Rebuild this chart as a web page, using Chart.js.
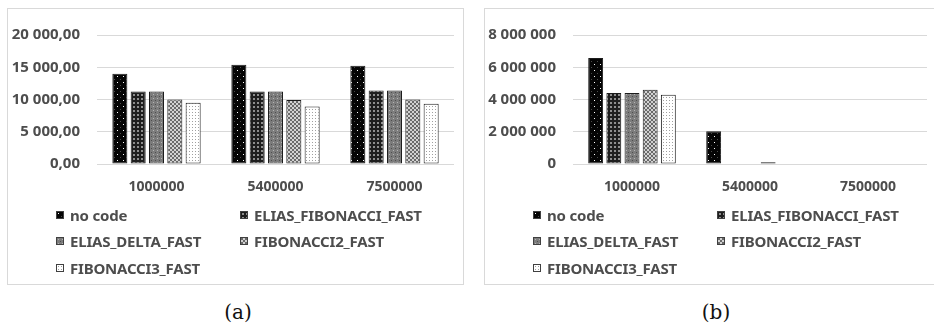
<!DOCTYPE html>
<html>
<head>
<meta charset="utf-8">
<script src="https://cdn.jsdelivr.net/npm/chart.js@4/dist/chart.umd.min.js"></script>
<style>
  html, body { margin: 0; padding: 0; background: #fff; }
  body { width: 934px; height: 325px; position: relative; overflow: hidden; }
  .panel { position: absolute; top: 8px; height: 275px; border: 1px solid #d9d9d9; background: #fff; }
  .panel canvas { position: absolute; left: 0; top: 0; }
  .legend { position: absolute; left: 0; top: 0; width: 100%; height: 100%; pointer-events: none; }
  .item { position: absolute; height: 20px; line-height: 20px; font-family: "Noto Sans", sans-serif; font-weight: 700;
          font-size: 15px; color: #4d4d4d; white-space: nowrap; }
  .sw { position: absolute; left: 0; top: 6px; width: 6px; height: 6px; border: 1px solid #404040; background-repeat: repeat; }
  .item span.t { position: absolute; white-space: nowrap; letter-spacing: -0.2px; }
  .cap { position: absolute; top: 300px; font-family: "DejaVu Serif", serif; font-size: 20px; color: #111; transform: translateX(-50%); }
</style>
</head>
<body>
<div class="panel" id="panelA" style="left:7px; width:455px;">
  <canvas id="chartA" width="455" height="200"></canvas>
  <div class="legend" id="legendA"></div>
</div>
<div class="panel" id="panelB" style="left:484px; width:451px;">
  <canvas id="chartB" width="451" height="200"></canvas>
  <div class="legend" id="legendB"></div>
</div>
<div class="cap" style="left:238px;">(a)</div>
<div class="cap" style="left:716px;">(b)</div>

<script>
// Categories (input sizes) and series names
const CATEGORIES = ['1000000', '5400000', '7500000'];
const SERIES = ['no code', 'ELIAS_FIBONACCI_FAST', 'ELIAS_DELTA_FAST', 'FIBONACCI2_FAST', 'FIBONACCI3_FAST'];

// Panel (a) values
const aNoCode     = [14000, 15400, 15220];
const aEliasFib   = [11240, 11240, 11380];
const aEliasDelta = [11240, 11240, 11380];
const aFib2       = [10000, 9910, 10000];
const aFib3       = [9500, 8910, 9340];

// Panel (b) values
const bNoCode     = [6580000, 2030000, 0];
const bEliasFib   = [4400000, 0, 0];
const bEliasDelta = [4400000, 0, 0];
const bFib2       = [4610000, 110000, 0];
const bFib3       = [4300000, 0, 0];

// Axis ticks and their printed labels
const A_TICKS = [0, 5000, 10000, 15000, 20000];
const A_TICK_LABELS = ['0,00', '5 000,00', '10 000,00', '15 000,00', '20 000,00'];
const B_TICKS = [0, 2000000, 4000000, 6000000, 8000000];
const B_TICK_LABELS = ['0', '2 000 000', '4 000 000', '6 000 000', '8 000 000'];

// Small repeating tiles used as fill patterns for each series
function tile(size, bg, px) {
  const c = document.createElement('canvas');
  c.width = size; c.height = size;
  const g = c.getContext('2d');
  g.fillStyle = bg; g.fillRect(0, 0, size, size);
  px.forEach(([x, y, col]) => { g.fillStyle = col; g.fillRect(x, y, 1, 1); });
  return c;
}
const TILES = [
  tile(6, '#050505', [[1, 1, '#ffffff'], [4, 4, '#4a4a4a']]),
  tile(4, '#1e1e1e', [[1, 1, '#8e8e8e'], [2, 1, '#8e8e8e'], [1, 2, '#8e8e8e'], [2, 2, '#8e8e8e']]),
  tile(4, '#7c7c7c', [[1, 1, '#b4b4b4'], [3, 3, '#4e4e4e']]),
  tile(4, '#d2d2d2', [[0, 0, '#6a6a6a'], [1, 0, '#6a6a6a'], [0, 1, '#6a6a6a'], [1, 1, '#6a6a6a'],
                      [2, 2, '#6a6a6a'], [3, 2, '#6a6a6a'], [2, 3, '#6a6a6a'], [3, 3, '#6a6a6a']]),
  tile(3, '#ffffff', [[1, 1, '#a0a0a0']])
];

function buildDatasets(ctx, seriesValues) {
  return seriesValues.map((vals, i) => ({
    label: SERIES[i],
    data: vals,
    backgroundColor: ctx.createPattern(TILES[i], 'repeat'),
    borderColor: '#1c1c1c',
    borderWidth: 1,
    borderSkipped: false,
    categoryPercentage: 0.77,
    barPercentage: 0.82
  }));
}

const yFont = { family: 'Noto Sans', weight: 'bold', size: 15 };
const xFont = { family: 'Noto Sans', weight: 'bold', size: 14 };

function makeChart(canvasId, seriesValues, ticks, tickLabels, yWidth) {
  const canvas = document.getElementById(canvasId);
  const ctx = canvas.getContext('2d');
  return new Chart(ctx, {
    type: 'bar',
    data: { labels: CATEGORIES, datasets: buildDatasets(ctx, seriesValues) },
    options: {
      responsive: false,
      animation: false,
      devicePixelRatio: 1,
      layout: { padding: { left: 0, right: 9, top: 14, bottom: 0 } },
      plugins: { legend: { display: false }, tooltip: { enabled: false } },
      scales: {
        x: {
          grid: { display: false, drawTicks: false },
          border: { display: false },
          ticks: { font: xFont, color: '#4d4d4d', padding: 15 },
          afterFit: s => { s.height = 45; }
        },
        y: {
          min: ticks[0],
          max: ticks[ticks.length - 1],
          afterBuildTicks: s => { s.ticks = ticks.map(v => ({ value: v })); },
          grid: { color: '#d9d9d9', lineWidth: 1, drawTicks: false },
          border: { display: false },
          ticks: {
            font: yFont, color: '#4d4d4d', padding: 17,
            callback: v => tickLabels[ticks.indexOf(v)]
          },
          afterFit: s => { s.width = yWidth; }
        }
      }
    }
  });
}

// Two-column legend laid out below each plot
function buildLegend(containerId) {
  const el = document.getElementById(containerId);
  const rows = [206, 232, 259];
  SERIES.forEach((name, i) => {
    const col = i % 2, row = Math.floor(i / 2);
    const item = document.createElement('div');
    item.className = 'item';
    item.style.left = (col === 0 ? 48 : 232) + 'px';
    item.style.top = (rows[row] - 10) + 'px';
    const sw = document.createElement('div');
    sw.className = 'sw';
    sw.style.backgroundImage = 'url(' + TILES[i].toDataURL() + ')';
    const t = document.createElement('span');
    t.className = 't';
    t.style.left = '14px';
    t.textContent = name;
    item.appendChild(sw);
    item.appendChild(t);
    el.appendChild(item);
  });
}

document.fonts.load('bold 14px "Noto Sans"').finally(() => {
  makeChart('chartA', [aNoCode, aEliasFib, aEliasDelta, aFib2, aFib3], A_TICKS, A_TICK_LABELS, 89);
  makeChart('chartB', [bNoCode, bEliasFib, bEliasDelta, bFib2, bFib3], B_TICKS, B_TICK_LABELS, 88);
  buildLegend('legendA');
  buildLegend('legendB');
});
</script>
</body>
</html>
